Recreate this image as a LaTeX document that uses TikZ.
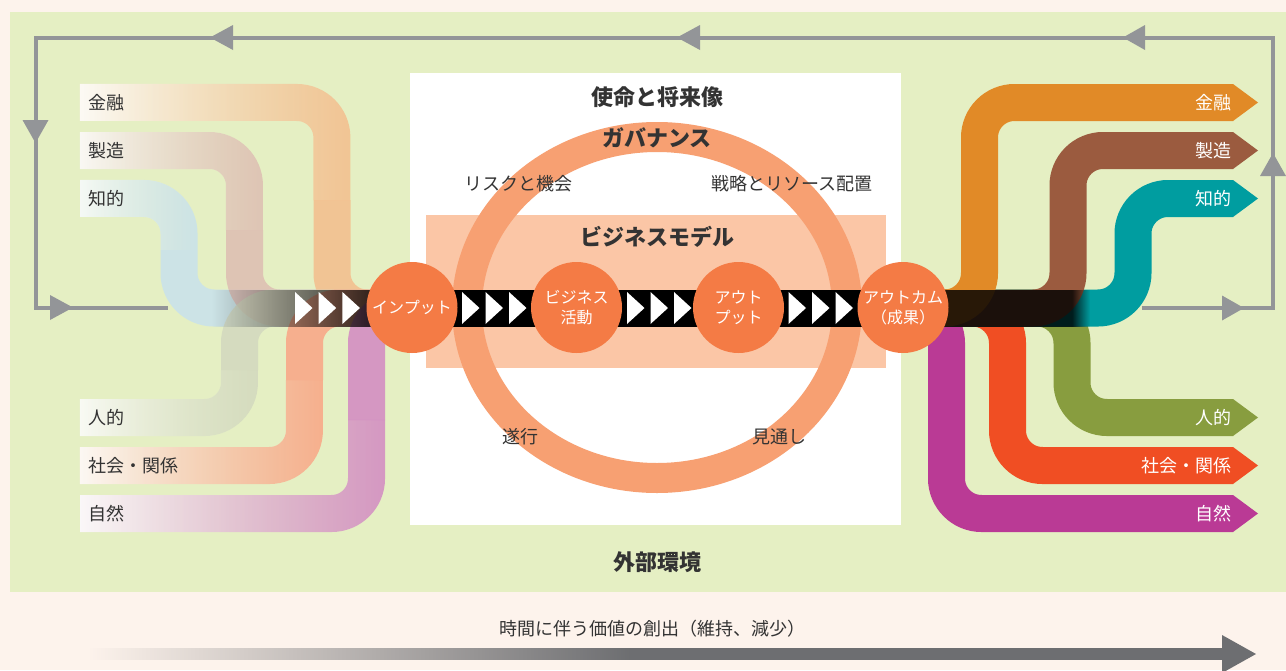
\documentclass[tikz,border=0pt]{standalone}
\usepackage{fontspec}
\setmainfont{Noto Sans CJK JP}
\usetikzlibrary{fadings}

\definecolor{bgc}{HTML}{FDF3EC}
\definecolor{greenc}{HTML}{E5EFC3}
\definecolor{bmc}{HTML}{FBC6A6}
\definecolor{ringc}{HTML}{F7A072}
\definecolor{circc}{HTML}{F47B45}
\definecolor{loopc}{HTML}{939598}
\definecolor{txtc}{HTML}{333333}
\definecolor{timec}{HTML}{6D6E71}
\definecolor{LFin}{HTML}{F5BA89}
\definecolor{LMan}{HTML}{DDBAB1}
\definecolor{LInt}{HTML}{C6E0EF}
\definecolor{LHum}{HTML}{D1D7BE}
\definecolor{LSoc}{HTML}{FBA081}
\definecolor{LNat}{HTML}{D182C2}
\definecolor{RFin}{HTML}{E18A27}
\definecolor{RMan}{HTML}{9B5B3F}
\definecolor{RInt}{HTML}{009DA0}
\definecolor{RHum}{HTML}{889D3F}
\definecolor{RSoc}{HTML}{F04E23}
\definecolor{RNat}{HTML}{BA3A95}

\tikzfading[name=fadein, left color=transparent!100, right color=transparent!0]
\tikzfading[name=fadelate, left color=transparent!100, middle color=transparent!100, right color=transparent!0]
\tikzfading[name=fadeout, left color=transparent!0, right color=transparent!100]
\tikzfading[name=fadeoutlate, left color=transparent!0, middle color=transparent!0, right color=transparent!100]

% left (input) tube: colour, y, vertical x, split y, colour fading, white fading
\newcommand\inputtube[6]{%
  \draw[white,tube,path fading=#6] (80,#2) -- (#3,#2) -- (#3,#4);
  \draw[#1,tube,opacity=0.8,path fading=#5] (80,#2) -- (#3,#2) -- (#3,#4);
  \draw[#1,tube,opacity=0.8] (#3,#4) -- (#3,308) -- (412,308);
}
% right (output) tube: colour, vertical x, y
\newcommand\outputtube[3]{%
  \draw[#1,tube] (900,308) -- (#2,308) -- (#2,#3) -- (1233,#3);
  \fill[#1] (1233,#3-18.5) -- (1258,#3) -- (1233,#3+18.5) -- cycle;
}

\begin{document}
\begin{tikzpicture}[x=1pt,y=-1pt,
  lbl/.style={font=\fontsize{18}{20}\selectfont, text=txtc, inner sep=0pt},
  title/.style={font=\fontsize{22}{24}\selectfont\bfseries, text=txtc, inner sep=0pt},
  rlbl/.style={font=\fontsize{18}{20}\selectfont, text=white, inner sep=0pt, anchor=east},
  proc/.style={circle, fill=circc, minimum size=91pt, inner sep=0pt, text=white, align=center, font=\fontsize{16}{20}\selectfont},
  tube/.style={line width=37pt, rounded corners=35pt},
  loopline/.style={draw=loopc, line width=4pt, line join=miter},
  loophead/.style={fill=loopc},
  chev/.style={fill=white}]

\useasboundingbox (0,0) rectangle (1286,670);
\fill[bgc] (0,0) rectangle (1286,670);
\fill[greenc] (10,12) rectangle (1286,592);
\fill[white] (410,73) rectangle (901,525);
\fill[bmc] (426,215) rectangle (886,368);
\draw[ringc, line width=30pt] (657,307.5) ellipse [x radius=190, y radius=170.5];

% input tubes
\inputtube{LInt}{198.5}{179}{250}{fadein}{fadeoutlate}
\inputtube{LMan}{150.5}{244.5}{230}{fadein}{fadeoutlate}
\inputtube{LFin}{102.5}{332}{200}{fadein}{fadeoutlate}
\inputtube{LHum}{417.5}{239.5}{370}{fadein}{fadeoutlate}
\inputtube{LSoc}{465.5}{304.5}{380}{fadelate}{fadeoutlate}
\inputtube{LNat}{513.5}{366.5}{420}{fadein}{fadeoutlate}

% output tubes
\outputtube{RNat}{946.5}{513.5}
\outputtube{RSoc}{1007.5}{465.5}
\outputtube{RHum}{1072}{417.5}
\outputtube{RInt}{1133}{198.5}
\outputtube{RMan}{1068}{150.5}
\outputtube{RFin}{979.5}{102.5}

% value chain band
\fill[black, path fading=fadein] (212,289.5) rectangle (412,326.5);
\fill[black] (412,289.5) rectangle (903,326.5);
\fill[black, opacity=0.82] (903,289.5) rectangle (1072,326.5);
\fill[black, opacity=0.82, path fading=fadeout] (1072,289.5) rectangle (1090,326.5);

% chevrons
\foreach \cx in {295,318.7,342.4, 462,485.5,509, 627,650.5,674, 788.5,812,835.5}
  \fill[chev] (\cx,292) -- (\cx+17.5,308) -- (\cx,324) -- cycle;

% process circles
\node[proc] (inp) at (412,307.5) {インプット};
\node[proc] (bact) at (576.5,307.5) {ビジネス\\活動};
\node[proc] (outp) at (738.5,307.5) {アウト\\プット};
\node[proc] (outc) at (903,307.5) {アウトカム\\（成果）};

% input labels
\node[lbl, anchor=west] (lfin) at (88,102.5) {金融};
\node[lbl, anchor=west] (lman) at (88,150.5) {製造};
\node[lbl, anchor=west] (lint) at (88,198.5) {知的};
\node[lbl, anchor=west] (lhum) at (88,417.5) {人的};
\node[lbl, anchor=west] (lsoc) at (88,465.5) {社会・関係};
\node[lbl, anchor=west] (lnat) at (88,513.5) {自然};

% output labels
\node[rlbl] (rfin) at (1232,102.5) {金融};
\node[rlbl] (rman) at (1232,150.5) {製造};
\node[rlbl] (rint) at (1232,198.5) {知的};
\node[rlbl] (rhum) at (1232,417.5) {人的};
\node[rlbl] (rsoc) at (1232,465.5) {社会・関係};
\node[rlbl] (rnat) at (1232,513.5) {自然};

% centre texts
\node[title] (mission) at (657,97) {使命と将来像};
\node[title] (gov) at (657,138) {ガバナンス};
\node[lbl] (risk) at (518,184) {リスクと機会};
\node[lbl] (strat) at (792,184) {戦略とリソース配置};
\node[title] (bm) at (657,237) {ビジネスモデル};
\node[lbl] (perf) at (520,437) {遂行};
\node[lbl] (outl) at (779,437) {見通し};
\node[title] (ext) at (657,562) {外部環境};

% feedback loop
\coordinate (ls) at (1142,308);
\coordinate (rb) at (1273,308);
\coordinate (rt) at (1273,37.5);
\coordinate (lt) at (35.5,37.5);
\coordinate (lb) at (35.5,307.5);
\coordinate (le) at (168,307.5);
\draw[loopline] (ls) -- (rb) -- (rt) -- (lt) -- (lb) -- (le);
\fill[loophead] (1222,295.5) -- (1244,308) -- (1222,320.5) -- cycle;
\fill[loophead] (1260,176) -- (1273,153) -- (1286,176) -- cycle;
\fill[loophead] (1145,25) -- (1123,37.5) -- (1145,50) -- cycle;
\fill[loophead] (700,25) -- (677,37.5) -- (700,50) -- cycle;
\fill[loophead] (233,25) -- (210,37.5) -- (233,50) -- cycle;
\fill[loophead] (22.5,120) -- (35.5,143) -- (48.5,120) -- cycle;
\fill[loophead] (50,295) -- (73,307.5) -- (50,320) -- cycle;

% time arrow
\node[lbl] (time) at (652,629) {時間に伴う価値の創出（維持、減少）};
\coordinate (tb) at (1256,654);
\fill[timec, path fading=fadein] (90,648) rectangle (631,660);
\fill[timec] (630,648) rectangle (1223,660);
\fill[timec] (1222,635) -- (tb) -- (1222,673) -- cycle;
\end{tikzpicture}
\end{document}
